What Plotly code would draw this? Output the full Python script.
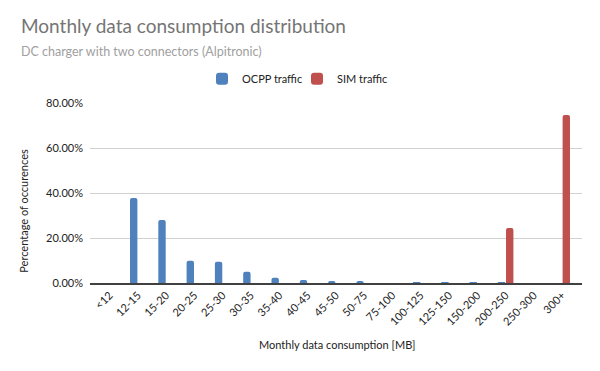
import plotly.graph_objects as go

categories = ["<12", "12-15", "15-20", "20-25", "25-30", "30-35", "35-40", "40-45",
              "45-50", "50-75", "75-100", "100-125", "125-150", "150-200",
              "200-250", "250-300", "300+"]
ocpp_values = [0.0, 0.378, 0.280, 0.099, 0.094, 0.050, 0.023, 0.013, 0.009, 0.009,
               0.0, 0.001, 0.001, 0.001, 0.001, 0.0, 0.0]
sim_values = [0.0, 0.0, 0.0, 0.0, 0.0, 0.0, 0.0, 0.0, 0.0, 0.0,
              0.0, 0.0, 0.0, 0.0, 0.245, 0.0, 0.747]
y_ticks = [0, 0.2, 0.4, 0.6, 0.8]

FONT = "Lato"
W, H = 600, 371
L, R, T, B = 90, 18, 103.3, 87.7
pw = W - L - R
ph = H - T - B

def px_x(x):
    return (x - L) / pw

def px_y(y):
    return (H - B - y) / ph

fig = go.Figure()
fig.add_trace(go.Bar(x=categories, y=ocpp_values, name="OCPP traffic",
                     marker=dict(color="#4F81BD", line=dict(width=0))))
fig.add_trace(go.Bar(x=categories, y=sim_values, name="SIM traffic",
                     marker=dict(color="#C0504D", line=dict(width=0))))

fig.update_layout(
    width=W, height=H,
    margin=dict(l=L, r=R, t=T, b=B, pad=0, autoexpand=False),
    paper_bgcolor="white", plot_bgcolor="white",
    barmode="group", bargap=0.42, bargroupgap=0.1, barcornerradius=2,
    font=dict(family=FONT, color="#333333", size=11),
    showlegend=True,
    legend=dict(orientation="h", x=px_x(297), xanchor="center", y=px_y(79), yanchor="middle",
                font=dict(family=FONT, size=11, color="#222222"),
                entrywidth=50, entrywidthmode="pixels",
                itemwidth=30, bgcolor="rgba(0,0,0,0)"),
    xaxis=dict(type="category", range=[-0.69, 16.7], tickangle=-45,
               showgrid=False, showline=True, linecolor="#404040", linewidth=1.5,
               ticks="", tickfont=dict(family=FONT, size=11, color="#222222"),
               automargin=False, fixedrange=True),
    yaxis=dict(range=[0, 0.8], tickvals=y_ticks, tickformat=".2%",
               showgrid=True, gridcolor="#d0d0d0", gridwidth=1,
               zeroline=False, showline=False, ticks="",
               ticklabelstandoff=6,
               tickfont=dict(family=FONT, size=11, color="#222222"),
               automargin=False, fixedrange=True),
    annotations=[
        dict(text="Monthly data consumption distribution", xref="paper", yref="paper",
             x=px_x(19), y=px_y(26), xanchor="left", yanchor="middle", showarrow=False,
             font=dict(family=FONT, size=19, color="#757575")),
        dict(text="DC charger with two connectors (Alpitronic)", xref="paper", yref="paper",
             x=px_x(19), y=px_y(52), xanchor="left", yanchor="middle", showarrow=False,
             font=dict(family=FONT, size=12.5, color="#a0a0a0")),
        dict(text="Percentage of occurences", xref="paper", yref="paper",
             x=px_x(24), y=px_y(211), xanchor="center", yanchor="middle", showarrow=False,
             textangle=-90, font=dict(family=FONT, size=11, color="#222222")),
        dict(text="Monthly data consumption [MB]", xref="paper", yref="paper",
             x=px_x(337), y=px_y(345), xanchor="center", yanchor="middle", showarrow=False,
             font=dict(family=FONT, size=11, color="#222222")),
    ],
)

fig.write_html("out.html", config={"displayModeBar": False},
               post_script="document.body.style.margin='0';")
